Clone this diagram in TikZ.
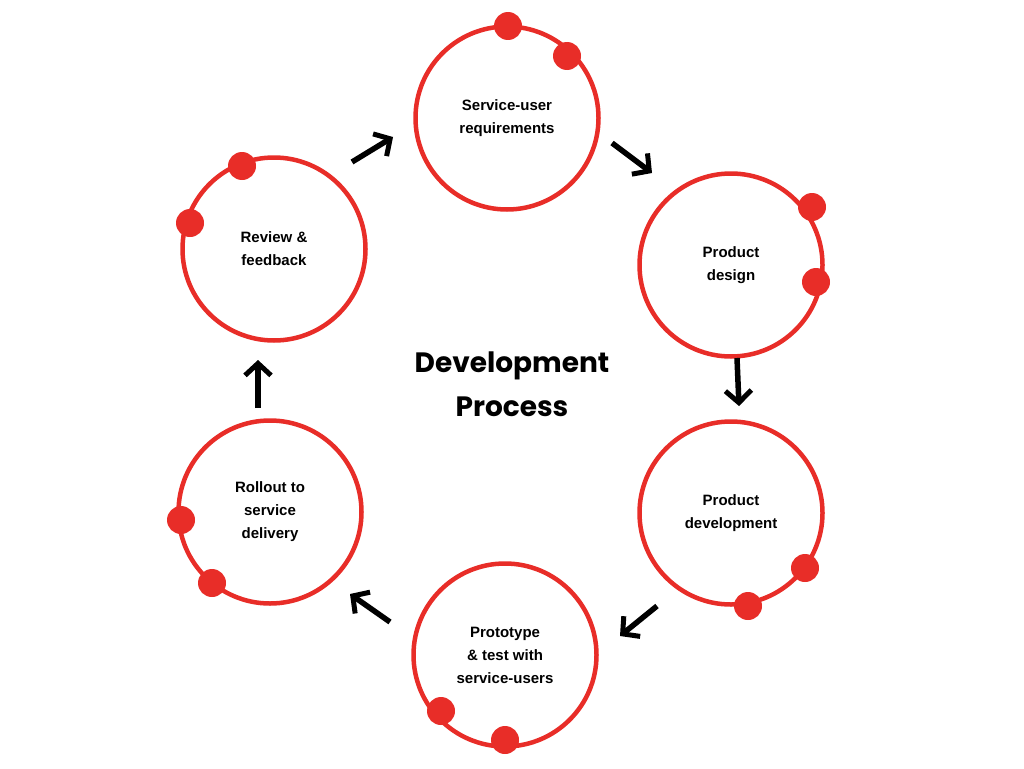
\documentclass[tikz,border=0pt]{standalone}
\usepackage{fontspec}
\setmainfont{Liberation Sans}
\newfontfamily\titlefont{Poppins}
\usetikzlibrary{arrows.meta}
\definecolor{cred}{RGB}{232,45,40}
\begin{document}
\begin{tikzpicture}[x=1pt,y=-1pt,
  stage/.style={circle,draw=cred,line width=4.5pt,minimum size=183pt,inner sep=0pt,align=center,font=\bfseries\fontsize{15}{23}\selectfont},
  dot/.style={circle,fill=cred,minimum size=28pt,inner sep=0pt},
  flow/.style={line width=5.5pt,-{Straight Barb[length=12pt,width=26pt,line width=5pt]}}]
\useasboundingbox (0,0) rectangle (1024,768);
\node[stage] (a) at (507,118) {Service-user\\requirements};
\node[stage] (b) at (731,265) {Product\\design};
\node[stage] (c) at (731,513) {Product\\development};
\node[stage] (d) at (505,655) {Prototype\\\& test with\\service-users};
\node[stage] (e) at (270,512) {Rollout to\\service\\delivery};
\node[stage] (f) at (274,249) {Review \&\\feedback};
\foreach \n/\x/\y in {d1/508/26,d2/567/56,d3/812/207,d4/816/282,d5/805/568,d6/748/606,d7/441/711,d8/505/740,d9/181/520,d10/212/583,d11/242/166,d12/190/223}
  \node[dot] (\n) at (\x,\y) {};
\node[font=\titlefont\bfseries\fontsize{28}{44}\selectfont,align=center] (t) at (512,384) {Development\\Process};
\coordinate (s1) at (352,162); \coordinate (e1) at (393,137);
\coordinate (s2) at (612,143); \coordinate (e2) at (652,173);
\coordinate (s3) at (737,358); \coordinate (e3) at (739,406);
\coordinate (s4) at (657,606); \coordinate (e4) at (620,636);
\coordinate (s5) at (390,622); \coordinate (e5) at (350,594);
\coordinate (s6) at (258,408); \coordinate (e6) at (258,360);
\foreach \i in {1,...,6} \draw[flow] (s\i) -- (e\i);
\end{tikzpicture}
\end{document}
